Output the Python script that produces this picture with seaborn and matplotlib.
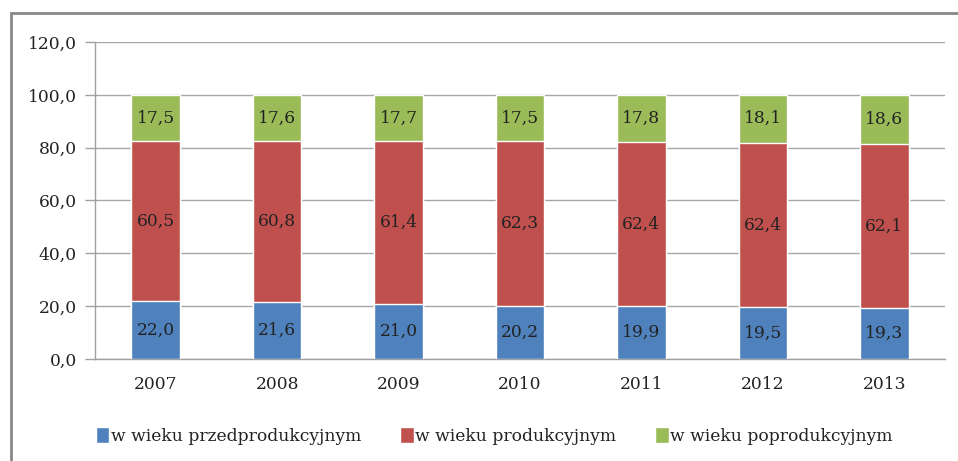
import numpy as np
import pandas as pd
import seaborn as sns
import matplotlib.pyplot as plt
from matplotlib.patches import Rectangle, Patch
from matplotlib.ticker import FixedLocator

years = ["2007", "2008", "2009", "2010", "2011", "2012", "2013"]
przed = [22.0, 21.6, 21.0, 20.2, 19.9, 19.5, 19.3]
prod = [60.5, 60.8, 61.4, 62.3, 62.4, 62.4, 62.1]
poprod = [17.5, 17.6, 17.7, 17.5, 17.8, 18.1, 18.6]
series = ["w wieku przedprodukcyjnym", "w wieku produkcyjnym", "w wieku poprodukcyjnym"]
colors = ["#4F81BD", "#C0504D", "#9BBB59"]

df = pd.DataFrame({"rok": years, series[0]: przed, series[1]: prod, series[2]: poprod})
cum = df[series].cumsum(axis=1)

sns.set_style("white")
plt.rcParams["font.family"] = ["DejaVu Serif"]
fs = 12.3
txt = "#222222"

fig = plt.figure(figsize=(9.58, 4.61), dpi=100)
ax = fig.add_axes([95 / 958, 1 - 359 / 461, 850 / 958, 317 / 461])

# stacked bars: draw cumulative totals from top down
for s, c in zip(series[::-1], colors[::-1]):
    sns.barplot(x=df["rok"], y=cum[s], color=c, width=0.4, saturation=1, ax=ax, zorder=3)

for i in range(len(years)):
    lo = 0
    for s in series:
        v = df[s][i]
        ax.text(i, lo + v / 2, f"{v:.1f}".replace(".", ","), ha="center", va="center",
                fontsize=fs, color=txt, zorder=5)
        lo += v

ax.set_ylim(0, 120)
ax.set_xlim(-0.5, len(years) - 0.5)
ax.set_yticks(np.arange(0, 121, 20))
ax.set_yticklabels([f"{v:.1f}".replace(".", ",") for v in np.arange(0, 121, 20)], fontsize=fs, color=txt)
ax.set_xticks(range(len(years)))
ax.set_xticklabels(years, fontsize=fs, color=txt)
ax.xaxis.set_minor_locator(FixedLocator(np.arange(-0.5, len(years), 1)))
ax.tick_params(axis="x", which="major", length=0, pad=12)
ax.tick_params(axis="x", which="minor", length=6, color="#A0A0A0", width=1, direction="out")
ax.tick_params(axis="y", length=7, color="#A0A0A0", width=1, direction="out", pad=6, left=True)
ax.set_xlabel("")
ax.set_ylabel("")
ax.grid(axis="y", color="#A6A6A6", linewidth=1, zorder=0)
ax.set_axisbelow(True)
for sp in ["top", "right"]:
    ax.spines[sp].set_visible(False)
for sp in ["left", "bottom"]:
    ax.spines[sp].set_color("#A0A0A0")
    ax.spines[sp].set_linewidth(1)

handles = [Patch(facecolor=c, label=s) for s, c in zip(series, colors)]
leg = fig.legend(handles=handles, loc="center", bbox_to_anchor=(0.516, 1 - 436 / 461), ncol=3,
                 frameon=False, fontsize=fs, handlelength=0.8, handleheight=1.0,
                 handletextpad=0.1, columnspacing=2.25)
for t in leg.get_texts():
    t.set_color(txt)

fig.patches.append(Rectangle((11 / 958, -0.2), 1.2, 1.2 - 13 / 461, transform=fig.transFigure,
                             fill=False, edgecolor="#888888", linewidth=2))

fig.savefig("out.png", dpi=100)
